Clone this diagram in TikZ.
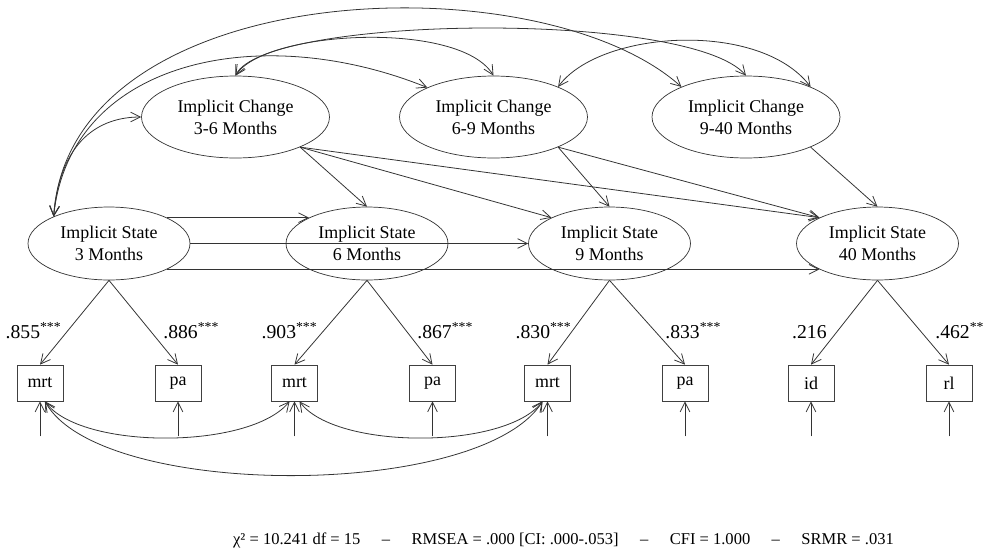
\documentclass[tikz,border=0pt]{standalone}
\usepackage{fontspec}
\setmainfont{Liberation Serif}
\usepackage{tikz}
\usetikzlibrary{
    arrows.meta,
    shapes.geometric,
    positioning
}
\tikzset{
    % latent state and change variables
    latent/.style={ellipse, draw=black!80, inner sep=0pt, align=center,
        minimum width=3.24cm, minimum height=1.46cm},
    chgvar/.style={latent, minimum width=3.76cm, minimum height=1.64cm},
    % observed indicators
    obsvar/.style={rectangle, draw=black!75, inner sep=0pt,
        minimum width=0.92cm, minimum height=0.72cm},
    % one-headed path and two-headed covariance
    regr/.style={draw=black!80, line width=0.45pt,
        -{Straight Barb[length=5.5pt, width=5.5pt]}},
    cov/.style={draw=black!80, line width=0.45pt,
        {Straight Barb[length=5.5pt, width=5.5pt]}-{Straight Barb[length=5.5pt, width=5.5pt]}},
    loadlbl/.style={inner sep=0pt, font=\fontsize{11.2}{13}\selectfont}
}

\begin{document}
\begin{tikzpicture}[x=0.02cm, y=-0.02cm, font=\fontsize{10.2}{12.5}\selectfont]
    \useasboundingbox (0,0) rectangle (985,552);

    % states
    \node[latent] (s3)  at (109,243.5)   {Implicit State\\3 Months};
    \node[latent] (s6)  at (367,243.5)   {Implicit State\\6 Months};
    \node[latent] (s9)  at (609.5,243.5) {Implicit State\\9 Months};
    \node[latent] (s40) at (877.5,243.5) {Implicit State\\40 Months};

    % changes
    \node[chgvar] (c36)  at (235.5,117) {Implicit Change\\3-6 Months};
    \node[chgvar] (c69)  at (493.5,117) {Implicit Change\\6-9 Months};
    \node[chgvar] (c940) at (746,117)   {Implicit Change\\9-40 Months};

    % indicators with their residuals
    \foreach \n/\x/\t in {m3/40/mrt, p3/178/pa, m6/294.5/mrt, p6/432.5/pa,
                          m9/547.5/mrt, p9/685/pa, id40/811/id, rl40/949/rl} {
        \node[obsvar] (\n) at (\x,383) {\t};
        \coordinate[below=0.7cm of \n] (e\n);
        \draw[regr] (e\n) -- (\n);
    }

    % loadings
    \foreach \f/\a/\b in {s3/m3/p3, s6/m6/p6, s9/m9/p9, s40/id40/rl40} {
        \draw[regr] (\f.south) -- (\a.north);
        \draw[regr] (\f.south) -- (\b.north);
    }
    \node[loadlbl, anchor=base east] (l1) at (62,338)  {.855\textsuperscript{***}};
    \node[loadlbl, anchor=base west] (l2) at (163,338) {.886\textsuperscript{***}};
    \node[loadlbl, anchor=base east] (l3) at (318,338) {.903\textsuperscript{***}};
    \node[loadlbl, anchor=base west] (l4) at (417,338) {.867\textsuperscript{***}};
    \node[loadlbl, anchor=base east] (l5) at (572,338) {.830\textsuperscript{***}};
    \node[loadlbl, anchor=base west] (l6) at (665,338) {.833\textsuperscript{***}};
    \node[loadlbl, anchor=base east] (l7) at (827,338) {.216};
    \node[loadlbl, anchor=base west] (l8) at (935,338) {.462\textsuperscript{**}};

    % state to state
    \draw[regr] (s3.24) -- (s6.156);
    \draw[regr] (s3.east) -- (s9.west);
    \draw[regr] (s3.-24) -- (s40.204);

    % change to state
    \draw[regr] (c36.-25) -- (s6.north);
    \draw[regr] (c36.-25) -- (s9.156);
    \draw[regr] (c36.-25) -- (s40.156);
    \draw[regr] (c69.-25) -- (s9.north);
    \draw[regr] (c69.-25) -- (s40.156);
    \draw[regr] (c940.-25) -- (s40.north);

    % covariances, top
    \draw[cov] (s3.154) .. controls (70,-25) and (540,-40) .. (c940.155);
    \draw[cov] (s3.154) .. controls (70,60) and (260,20) .. (c69.156);
    \draw[cov] (s3.154) .. controls (60,140) and (100,117) .. (c36.west);
    \draw[cov] (c36.north) .. controls (265,30) and (460,20) .. (c69.north);
    \draw[cov] (c36.north) .. controls (265,15) and (690,10) .. (c940.north);
    \draw[cov] (c69.25) .. controls (600,30) and (760,20) .. (c940.25);

    % correlated residuals, bottom
    \draw[cov] (m3.-75) .. controls (80,450) and (250,450) .. (m6.-105);
    \draw[cov] (m6.-75) .. controls (335,450) and (505,450) .. (m9.-105);
    \draw[cov] (m3.-75) .. controls (100,500) and (480,500) .. (m9.-105);

    % fit
    \node[font=\fontsize{9.4}{12}\selectfont] (fit) at (563.5,540)
        {χ² = 10.241 df = 15\hspace{1.3em}–\hspace{1.3em}RMSEA = .000 [CI: .000-.053]\hspace{1.3em}–\hspace{1.3em}CFI = 1.000\hspace{1.3em}–\hspace{1.3em}SRMR = .031};
\end{tikzpicture}
\end{document}
